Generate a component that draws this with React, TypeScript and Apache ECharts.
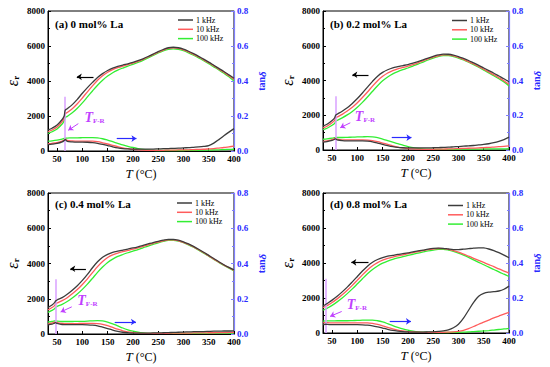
import React, { useEffect, useRef } from 'react';
import * as echarts from 'echarts';

const FONT = "'Liberation Serif','Times New Roman',serif";
const seriesNames = ['1 kHz', '10 kHz', '100 kHz'];
const panelTitles = ['(a) 0 mol% La', '(b) 0.2 mol% La', '(c) 0.4 mol% La', '(d) 0.8 mol% La'];
const xTicks = [50, 100, 150, 200, 250, 300, 350, 400];
const xMin = 32;
const xMax = 400;

const tempsA = [32, 40, 50, 60, 64, 66, 70, 80, 90, 100, 110, 120, 130, 140, 150, 160, 170, 180, 190, 200, 210, 220, 230, 240, 250, 260, 270, 280, 290, 300, 310, 320, 330, 340, 350, 360, 370, 380, 390, 400];
const epsA1k = [1200, 1300, 1480, 1800, 2000, 2330, 2420, 2650, 2950, 3300, 3620, 3920, 4200, 4420, 4600, 4730, 4830, 4910, 4980, 5060, 5160, 5270, 5400, 5540, 5680, 5800, 5900, 5930, 5900, 5820, 5700, 5560, 5410, 5250, 5080, 4900, 4720, 4540, 4350, 4160];
const epsA10k = [1100, 1200, 1370, 1680, 1880, 2120, 2200, 2420, 2700, 3030, 3380, 3720, 4040, 4300, 4500, 4650, 4760, 4850, 4930, 5020, 5120, 5240, 5370, 5510, 5650, 5770, 5860, 5890, 5860, 5780, 5660, 5520, 5370, 5210, 5040, 4860, 4680, 4500, 4300, 4100];
const epsA100k = [1000, 1100, 1260, 1540, 1720, 1900, 1980, 2180, 2440, 2750, 3090, 3430, 3760, 4040, 4280, 4470, 4620, 4740, 4850, 4950, 5060, 5180, 5320, 5460, 5600, 5720, 5810, 5840, 5810, 5730, 5610, 5470, 5320, 5160, 4990, 4810, 4630, 4440, 4240, 4000];
const tanA1k = [0.037, 0.039, 0.043, 0.052, 0.06, 0.066, 0.055, 0.052, 0.051, 0.051, 0.05, 0.048, 0.044, 0.038, 0.031, 0.024, 0.018, 0.014, 0.012, 0.011, 0.011, 0.011, 0.011, 0.011, 0.012, 0.013, 0.014, 0.015, 0.016, 0.018, 0.019, 0.021, 0.023, 0.026, 0.031, 0.045, 0.065, 0.087, 0.108, 0.128];
const tanA10k = [0.042, 0.044, 0.048, 0.056, 0.063, 0.068, 0.06, 0.058, 0.057, 0.057, 0.057, 0.056, 0.053, 0.047, 0.04, 0.032, 0.025, 0.018, 0.013, 0.009, 0.007, 0.005, 0.004, 0.004, 0.004, 0.004, 0.005, 0.005, 0.006, 0.006, 0.007, 0.008, 0.009, 0.01, 0.012, 0.014, 0.017, 0.02, 0.024, 0.028];
const tanA100k = [0.056, 0.058, 0.062, 0.068, 0.072, 0.074, 0.074, 0.075, 0.075, 0.076, 0.077, 0.077, 0.075, 0.07, 0.062, 0.053, 0.044, 0.035, 0.027, 0.02, 0.014, 0.009, 0.006, 0.004, 0.003, 0.003, 0.003, 0.003, 0.003, 0.003, 0.004, 0.004, 0.004, 0.005, 0.005, 0.006, 0.007, 0.008, 0.009, 0.01];

const tempsB = [32, 40, 50, 55, 57, 60, 70, 80, 90, 100, 110, 120, 130, 140, 150, 160, 170, 180, 190, 200, 210, 220, 230, 240, 250, 260, 270, 280, 290, 300, 310, 320, 330, 340, 350, 360, 370, 380, 390, 400];
const epsB1k = [1370, 1480, 1700, 1850, 2000, 2060, 2230, 2430, 2680, 2960, 3280, 3620, 3950, 4250, 4470, 4620, 4730, 4800, 4860, 4920, 5000, 5090, 5190, 5290, 5390, 5470, 5520, 5510, 5460, 5380, 5270, 5150, 5010, 4870, 4720, 4570, 4420, 4260, 4100, 3930];
const epsB10k = [1280, 1370, 1570, 1700, 1840, 1900, 2050, 2240, 2460, 2720, 3020, 3340, 3680, 3990, 4240, 4430, 4570, 4670, 4750, 4830, 4920, 5020, 5130, 5240, 5340, 5420, 5470, 5470, 5420, 5330, 5220, 5090, 4950, 4800, 4650, 4490, 4330, 4160, 3990, 3780];
const epsB100k = [1170, 1250, 1420, 1530, 1640, 1700, 1850, 2020, 2220, 2460, 2740, 3050, 3380, 3700, 3980, 4200, 4380, 4510, 4620, 4720, 4830, 4940, 5060, 5180, 5290, 5380, 5430, 5430, 5380, 5290, 5180, 5050, 4910, 4760, 4600, 4440, 4270, 4100, 3920, 3690];
const tanB1k = [0.045, 0.048, 0.055, 0.062, 0.064, 0.058, 0.054, 0.053, 0.053, 0.053, 0.053, 0.051, 0.047, 0.04, 0.032, 0.025, 0.019, 0.015, 0.013, 0.012, 0.012, 0.012, 0.012, 0.012, 0.013, 0.014, 0.015, 0.016, 0.018, 0.02, 0.022, 0.024, 0.026, 0.029, 0.032, 0.036, 0.042, 0.05, 0.06, 0.074];
const tanB10k = [0.05, 0.053, 0.06, 0.066, 0.068, 0.062, 0.058, 0.058, 0.058, 0.058, 0.058, 0.057, 0.054, 0.048, 0.04, 0.032, 0.024, 0.017, 0.012, 0.008, 0.006, 0.005, 0.004, 0.004, 0.004, 0.005, 0.005, 0.006, 0.007, 0.008, 0.009, 0.01, 0.011, 0.012, 0.014, 0.015, 0.017, 0.019, 0.021, 0.024];
const tanB100k = [0.062, 0.064, 0.068, 0.071, 0.072, 0.072, 0.072, 0.073, 0.074, 0.075, 0.076, 0.077, 0.076, 0.071, 0.063, 0.054, 0.045, 0.036, 0.028, 0.02, 0.014, 0.009, 0.006, 0.005, 0.004, 0.004, 0.004, 0.004, 0.004, 0.004, 0.005, 0.005, 0.005, 0.005, 0.006, 0.006, 0.006, 0.007, 0.007, 0.008];

const tempsC = [32, 40, 45, 47, 50, 60, 70, 80, 90, 100, 110, 120, 130, 140, 150, 160, 170, 180, 190, 200, 210, 220, 230, 240, 250, 260, 270, 280, 290, 300, 310, 320, 330, 340, 350, 360, 370, 380, 390, 400];
const epsC1k = [1500, 1650, 1780, 1870, 1930, 2060, 2250, 2480, 2740, 3040, 3380, 3760, 4100, 4360, 4520, 4630, 4700, 4760, 4820, 4880, 4950, 5030, 5110, 5190, 5260, 5320, 5370, 5370, 5320, 5230, 5110, 4970, 4810, 4640, 4460, 4280, 4100, 3930, 3780, 3640];
const epsC10k = [1370, 1500, 1610, 1700, 1760, 1890, 2060, 2280, 2520, 2810, 3130, 3480, 3820, 4110, 4340, 4490, 4590, 4670, 4740, 4810, 4890, 4970, 5060, 5140, 5220, 5290, 5340, 5340, 5290, 5200, 5080, 4940, 4780, 4610, 4430, 4250, 4080, 3910, 3760, 3610];
const epsC100k = [1230, 1340, 1430, 1500, 1560, 1680, 1840, 2040, 2270, 2530, 2830, 3160, 3500, 3800, 4060, 4250, 4400, 4510, 4610, 4700, 4790, 4890, 4990, 5080, 5170, 5250, 5310, 5310, 5270, 5180, 5060, 4920, 4760, 4590, 4410, 4230, 4060, 3890, 3740, 3580];
const tanC1k = [0.052, 0.056, 0.062, 0.064, 0.06, 0.054, 0.053, 0.053, 0.053, 0.053, 0.052, 0.05, 0.046, 0.039, 0.031, 0.022, 0.015, 0.01, 0.007, 0.005, 0.005, 0.005, 0.005, 0.006, 0.006, 0.007, 0.008, 0.009, 0.01, 0.011, 0.012, 0.013, 0.014, 0.014, 0.015, 0.016, 0.016, 0.017, 0.017, 0.018];
const tanC10k = [0.058, 0.062, 0.066, 0.068, 0.064, 0.06, 0.059, 0.059, 0.059, 0.06, 0.06, 0.06, 0.059, 0.055, 0.047, 0.037, 0.027, 0.018, 0.012, 0.008, 0.005, 0.004, 0.004, 0.004, 0.004, 0.004, 0.004, 0.005, 0.005, 0.005, 0.005, 0.006, 0.006, 0.006, 0.007, 0.007, 0.008, 0.008, 0.009, 0.01];
const tanC100k = [0.068, 0.071, 0.074, 0.075, 0.073, 0.071, 0.071, 0.071, 0.072, 0.072, 0.073, 0.075, 0.076, 0.074, 0.068, 0.058, 0.046, 0.034, 0.024, 0.016, 0.01, 0.006, 0.004, 0.003, 0.003, 0.003, 0.003, 0.003, 0.003, 0.003, 0.003, 0.004, 0.004, 0.004, 0.004, 0.005, 0.005, 0.005, 0.005, 0.006];

const tempsD = [32, 38, 40, 50, 60, 70, 80, 90, 100, 110, 120, 130, 140, 150, 160, 170, 180, 190, 200, 210, 220, 230, 240, 250, 260, 270, 280, 290, 300, 310, 320, 330, 340, 350, 360, 370, 380, 390, 400];
const epsD1k = [1550, 1640, 1680, 1880, 2100, 2350, 2620, 2920, 3230, 3540, 3820, 4040, 4200, 4310, 4390, 4440, 4490, 4530, 4580, 4630, 4690, 4740, 4790, 4830, 4850, 4840, 4800, 4770, 4770, 4790, 4820, 4850, 4870, 4860, 4800, 4710, 4590, 4450, 4300];
const epsD10k = [1450, 1530, 1560, 1740, 1950, 2180, 2440, 2720, 3020, 3320, 3600, 3840, 4020, 4160, 4260, 4340, 4410, 4470, 4530, 4590, 4650, 4710, 4760, 4800, 4830, 4820, 4780, 4710, 4620, 4510, 4390, 4270, 4150, 4030, 3910, 3790, 3660, 3540, 3420];
const epsD100k = [1300, 1380, 1410, 1580, 1780, 2000, 2250, 2520, 2810, 3100, 3380, 3630, 3830, 3990, 4110, 4210, 4290, 4360, 4430, 4500, 4570, 4630, 4690, 4740, 4780, 4780, 4740, 4670, 4570, 4450, 4320, 4180, 4040, 3900, 3760, 3630, 3490, 3360, 3230];
const tanD1k = [0.048, 0.05, 0.049, 0.048, 0.048, 0.048, 0.048, 0.048, 0.048, 0.047, 0.045, 0.041, 0.035, 0.028, 0.021, 0.015, 0.011, 0.008, 0.006, 0.005, 0.005, 0.005, 0.006, 0.007, 0.009, 0.012, 0.018, 0.03, 0.05, 0.085, 0.13, 0.175, 0.21, 0.226, 0.233, 0.236, 0.24, 0.25, 0.268];
const tanD10k = [0.058, 0.06, 0.059, 0.058, 0.058, 0.058, 0.058, 0.058, 0.058, 0.058, 0.058, 0.055, 0.049, 0.041, 0.032, 0.024, 0.017, 0.012, 0.008, 0.006, 0.005, 0.004, 0.004, 0.004, 0.004, 0.004, 0.005, 0.006, 0.009, 0.015, 0.025, 0.037, 0.05, 0.062, 0.074, 0.086, 0.097, 0.108, 0.118];
const tanD100k = [0.068, 0.069, 0.069, 0.069, 0.07, 0.07, 0.07, 0.071, 0.072, 0.073, 0.074, 0.074, 0.07, 0.063, 0.053, 0.042, 0.032, 0.023, 0.016, 0.011, 0.007, 0.005, 0.004, 0.003, 0.003, 0.003, 0.003, 0.004, 0.004, 0.005, 0.006, 0.008, 0.01, 0.012, 0.014, 0.017, 0.02, 0.023, 0.027];

// annotations (data coordinates)
const tfrTemps = [66, 57, 47, 38];
const tfrLineTop = [3100, 3100, 3100, 3100];
const tfrLabelPos = [[104, 1940], [95, 1900], [90, 1900], [79, 1630]];
const tfrArrowFrom = [[92, 1565], [86, 1565], [79, 1540], [69, 1230]];
const tfrArrowTo = [[72, 1180], [66, 1280], [57, 1250], [46, 950]];
const epsArrowFrom = [[122, 4240], [122, 4330], [107, 3700], [122, 4040]];
const epsArrowTo = [[89, 4240], [90, 4330], [76, 3700], [88, 4040]];
const tanArrowFrom = [[168, 0.071], [168, 0.071], [164, 0.068], [164, 0.066]];
const tanArrowTo = [[207, 0.071], [207, 0.071], [206, 0.068], [206, 0.066]];

const panelData = [
  { temps: tempsA, eps: [epsA1k, epsA10k, epsA100k], tan: [tanA1k, tanA10k, tanA100k] },
  { temps: tempsB, eps: [epsB1k, epsB10k, epsB100k], tan: [tanB1k, tanB10k, tanB100k] },
  { temps: tempsC, eps: [epsC1k, epsC10k, epsC100k], tan: [tanC1k, tanC10k, tanC100k] },
  { temps: tempsD, eps: [epsD1k, epsD10k, epsD100k], tan: [tanD1k, tanD10k, tanD100k] },
];

const layout = [
  { left: 48, top: 11, width: 186, height: 140, legendLeft: 178, legendTop: 16, titleLeft: 55, titleTop: 18 },
  { left: 323, top: 11, width: 186, height: 139, legendLeft: 452, legendTop: 16.5, titleLeft: 330, titleTop: 18.5 },
  { left: 48, top: 193, width: 186, height: 141, legendLeft: 177, legendTop: 199, titleLeft: 55, titleTop: 198.5 },
  { left: 323, top: 193, width: 186, height: 140, legendLeft: 448, legendTop: 201.5, titleLeft: 330, titleTop: 198.5 },
];

const lineColors = ['#3c3c3c', '#ff5c5c', '#33ee33'];
const blue = '#2a2aff';
const axisBlue = '#8080ff';
const purple = '#c040ff';
const purpleLine = '#d9a0ff';

function pairs(t: number[], v: number[]) {
  return t.map((x, i) => [x, v[i]]);
}

function buildOption() {
  const grid: any[] = [];
  const xAxis: any[] = [];
  const yAxis: any[] = [];
  const series: any[] = [];
  const legend: any[] = [];
  const title: any[] = [];

  panelData.forEach((p, i) => {
    const L = layout[i];
    grid.push({ left: L.left, top: L.top, width: L.width, height: L.height, show: true, borderColor: '#000', borderWidth: 1 });
    xAxis.push({
      type: 'value', gridIndex: i, min: xMin, max: xMax,
      name: '{i|T} (°C)', nameLocation: 'middle', nameGap: 16,
      nameTextStyle: { fontFamily: FONT, fontSize: 12, color: '#000', rich: { i: { fontStyle: 'italic', fontFamily: FONT, fontSize: 13, color: '#000' } } },
      axisLine: { show: true, lineStyle: { color: '#000', width: 1 } },
      axisTick: { show: true, inside: true, length: 3, customValues: xTicks, lineStyle: { color: '#000' } },
      axisLabel: { customValues: xTicks, fontFamily: FONT, fontSize: 9, fontWeight: 'bold', color: '#000', margin: 3.5, formatter: (v: number) => String(v) },
      splitLine: { show: false },
    });
    yAxis.push({
      type: 'value', gridIndex: i, min: 0, max: 8000, interval: 2000, position: 'left',
      name: '{e|ε}{r|r}', nameLocation: 'middle', nameGap: 28,
      nameTextStyle: { rich: { e: { fontFamily: FONT, fontStyle: 'italic', fontSize: 16, color: '#000' }, r: { fontFamily: FONT, fontSize: 9, fontWeight: 'bold', color: '#000', padding: [7, 0, 0, 0] } } },
      axisLine: { show: true, lineStyle: { color: '#000' } },
      axisTick: { show: true, inside: true, length: 3, lineStyle: { color: '#000' } },
      minorTick: { show: true, splitNumber: 2, length: 2, lineStyle: { color: '#000' } },
      axisLabel: { fontFamily: FONT, fontSize: 9, fontWeight: 'bold', color: '#000', margin: 3, formatter: (v: number) => String(v) },
      splitLine: { show: false },
    });
    yAxis.push({
      type: 'value', gridIndex: i, min: 0, max: 0.8, interval: 0.2, position: 'right',
      name: '{a|tan}{d|δ}', nameLocation: 'middle', nameGap: 22,
      nameTextStyle: { rich: { a: { fontFamily: FONT, fontWeight: 'bold', fontSize: 10, color: blue }, d: { fontFamily: FONT, fontStyle: 'italic', fontWeight: 'bold', fontSize: 11, color: blue } } },
      axisLine: { show: true, lineStyle: { color: axisBlue, width: 1.2 } },
      axisTick: { show: true, inside: true, length: 3, lineStyle: { color: axisBlue } },
      minorTick: { show: true, splitNumber: 2, length: 2, lineStyle: { color: axisBlue } },
      axisLabel: { fontFamily: FONT, fontSize: 9, fontWeight: 'bold', color: blue, margin: 3, formatter: (v: number) => v.toFixed(1) },
      splitLine: { show: false },
    });

    p.eps.forEach((vals, k) => {
      const s: any = {
        type: 'line', name: seriesNames[k], xAxisIndex: i, yAxisIndex: 2 * i,
        data: pairs(p.temps, vals), symbol: 'none', smooth: 0.3,
        lineStyle: { color: lineColors[k], width: 1.3 }, itemStyle: { color: lineColors[k] },
        z: 5 - k,
      };
      if (k === 0) {
        s.markLine = {
          silent: true, animation: false, symbol: ['none', 'arrow'], symbolSize: 5,
          label: { show: false },
          lineStyle: { type: 'solid' },
          data: [
            [
              { coord: [tfrTemps[i], 0], symbol: 'none', lineStyle: { color: purpleLine, width: 1.5, type: 'solid' } },
              { coord: [tfrTemps[i], tfrLineTop[i]], symbol: 'none' },
            ],
            [
              { coord: epsArrowFrom[i], symbol: 'none', lineStyle: { color: '#000', width: 1.2, type: 'solid' } },
              { coord: epsArrowTo[i], symbol: 'arrow' },
            ],
            [
              { coord: tfrArrowFrom[i], symbol: 'none', lineStyle: { color: purple, width: 1, type: 'solid' } },
              { coord: tfrArrowTo[i], symbol: 'arrow' },
            ],
          ],
        };
        s.markPoint = {
          silent: true, animation: false, symbol: 'circle', symbolSize: 0,
          data: [{ coord: tfrLabelPos[i] }],
          label: {
            show: true, position: 'right', distance: 0,
            formatter: '{t|T}{s|F-R}',
            rich: {
              t: { fontFamily: FONT, fontStyle: 'italic', fontWeight: 'bold', fontSize: 14, color: purple, verticalAlign: 'top', lineHeight: 14 },
              s: { fontFamily: FONT, fontWeight: 'bold', fontSize: 7, color: purple, verticalAlign: 'bottom', lineHeight: 7, padding: [10, 0, 0, 0] },
            },
          },
        };
      }
      series.push(s);
    });
    p.tan.forEach((vals, k) => {
      const s: any = {
        type: 'line', name: seriesNames[k], xAxisIndex: i, yAxisIndex: 2 * i + 1,
        data: pairs(p.temps, vals), symbol: 'none', smooth: 0.3,
        lineStyle: { color: lineColors[k], width: 1.3 }, itemStyle: { color: lineColors[k] },
        z: 5 - k,
      };
      if (k === 0) {
        s.markLine = {
          silent: true, animation: false, symbol: ['none', 'arrow'], symbolSize: 5,
          label: { show: false },
          data: [
            [
              { coord: tanArrowFrom[i], symbol: 'none', lineStyle: { color: blue, width: 1.2, type: 'solid' } },
              { coord: tanArrowTo[i], symbol: 'arrow' },
            ],
          ],
        };
      }
      series.push(s);
    });

    legend.push({
      data: seriesNames, left: L.legendLeft, top: L.legendTop, orient: 'vertical',
      icon: 'rect', itemWidth: 15, itemHeight: 1.5, itemGap: 1.3, padding: 0, selectedMode: false,
      textStyle: { fontFamily: FONT, fontSize: 8, color: '#000', padding: [0, 0, 0, -2] },
    });
    title.push({
      text: panelTitles[i], left: L.titleLeft, top: L.titleTop, padding: 0,
      textStyle: { fontFamily: FONT, fontSize: 11, fontWeight: 'bold', color: '#000' },
    });
  });

  return { animation: false, backgroundColor: '#fff', grid, xAxis, yAxis, series, legend, title };
}

export default function App() {
  const ref = useRef<HTMLDivElement>(null);
  useEffect(() => {
    if (!ref.current) return;
    const chart = echarts.init(ref.current, null, { renderer: 'svg' });
    chart.setOption(buildOption() as any);
    return () => chart.dispose();
  }, []);
  return <div ref={ref} style={{ position: 'fixed', left: 0, top: 0, width: 550, height: 367, background: '#fff' }} />;
}
